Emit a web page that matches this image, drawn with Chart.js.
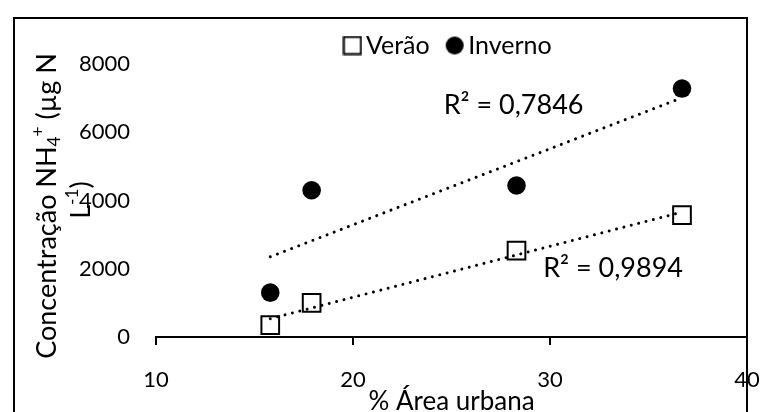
<!DOCTYPE html>
<html lang="pt">
<head>
<meta charset="utf-8">
<title>Concentração de NH4+ e área urbana</title>
<script src="https://cdn.jsdelivr.net/npm/chart.js@4.4.1/dist/chart.umd.min.js"></script>
<style>
  html, body { margin: 0; padding: 0; background: #ffffff; }
  canvas { display: block; }
</style>
</head>
<body>
<canvas id="chart" width="763" height="412"></canvas>
<script>
// Percent urban area of each sampled basin
const urbanArea = [15.8, 17.9, 28.3, 36.7];
// NH4+ concentration (µg N L-1) measured in each season
const summerNH4 = [350, 1000, 2530, 3570];
const winterNH4 = [1300, 4300, 4440, 7280];
const seriesNames = ['Verão', 'Inverno'];
const xTickValues = [10, 20, 30, 40];
const yTickValues = [0, 2000, 4000, 6000, 8000];
const r2Summer = 'R² = 0,9894';
const r2Winter = 'R² = 0,7846';

const FONT = 'Lato, "Open Sans", sans-serif';
const INK = '#000000';

// least-squares line through a series, spanning its x range
function linearFit(xs, ys) {
  const n = xs.length;
  const mx = xs.reduce((a, b) => a + b, 0) / n;
  const my = ys.reduce((a, b) => a + b, 0) / n;
  let sxy = 0, sxx = 0;
  for (let i = 0; i < n; i++) {
    sxy += (xs[i] - mx) * (ys[i] - my);
    sxx += (xs[i] - mx) * (xs[i] - mx);
  }
  const slope = sxy / sxx;
  return { slope, intercept: my - slope * mx };
}
function trendSegment(xs, ys) {
  const f = linearFit(xs, ys);
  const lo = Math.min(...xs), hi = Math.max(...xs);
  return [lo, hi].map(x => ({ x, y: f.intercept + f.slope * x }));
}
function toPoints(xs, ys) {
  return xs.map((x, i) => ({ x, y: ys[i] }));
}

// small canvases used as legend symbols
function markerCanvas(kind) {
  const c = document.createElement('canvas');
  c.width = 20; c.height = 20;
  const g = c.getContext('2d');
  if (kind === 'square') {
    g.lineWidth = 2; g.strokeStyle = INK;
    g.strokeRect(1.5, 1.5, 17, 17);
  } else {
    g.fillStyle = INK;
    g.beginPath(); g.arc(10, 10, 9, 0, Math.PI * 2); g.fill();
  }
  return c;
}
const legendMarkers = { 'Verão': markerCanvas('square'), 'Inverno': markerCanvas('circle') };

// draws a run of text pieces (with sub/superscripts) rotated 90° ccw, centred on (cx, cy)
function drawRotatedRich(ctx, parts, cx, cy, size) {
  ctx.save();
  ctx.translate(cx, cy);
  ctx.rotate(-Math.PI / 2);
  ctx.textBaseline = 'alphabetic';
  ctx.textAlign = 'left';
  ctx.fillStyle = INK;
  const base = size * 0.36;
  let total = 0;
  const widths = parts.map(p => {
    const s = p.kind ? size * 0.64 : size;
    ctx.font = `${s}px ${FONT}`;
    const w = ctx.measureText(p.text).width;
    total += w;
    return w;
  });
  let x = -total / 2;
  parts.forEach((p, i) => {
    const s = p.kind ? size * 0.64 : size;
    let dy = base;
    if (p.kind === 'sub') dy = base + size * 0.16;
    if (p.kind === 'sup') dy = base - size * 0.42;
    ctx.font = `${s}px ${FONT}`;
    ctx.fillText(p.text, x, dy);
    x += widths[i];
  });
  ctx.restore();
}

const framePlugin = {
  id: 'frame',
  beforeDraw(chart) {
    const ctx = chart.ctx;
    ctx.save();
    ctx.fillStyle = '#ffffff';
    ctx.fillRect(0, 0, chart.width, chart.height);
    ctx.strokeStyle = INK;
    ctx.lineWidth = 2;
    ctx.strokeRect(14, 18, chart.chartArea.right - 14, 420);
    ctx.restore();
  },
  afterLayout(chart) {
    // nudge the legend row a little closer to the plot
    if (chart.legend) { chart.legend.top += 4; chart.legend.bottom += 4; }
  }
};

const yTitlePlugin = {
  id: 'yTitle',
  afterDraw(chart) {
    const ctx = chart.ctx;
    const size = 27;
    drawRotatedRich(ctx, [
      { text: 'Concentração NH' },
      { text: '4', kind: 'sub' },
      { text: '+', kind: 'sup' },
      { text: ' (µg N' }
    ], 46, 206, size);
    drawRotatedRich(ctx, [
      { text: 'L' },
      { text: '-1', kind: 'sup' },
      { text: ')' }
    ], 80, 200, size);
  }
};

// coefficient-of-determination notes next to each trend line
const r2Plugin = {
  id: 'r2Labels',
  afterDatasetsDraw(chart) {
    const { ctx, scales: { x, y } } = chart;
    ctx.save();
    ctx.font = `27px ${FONT}`;
    ctx.fillStyle = INK;
    ctx.textAlign = 'right';
    ctx.textBaseline = 'middle';
    ctx.fillText(r2Winter, x.getPixelForValue(31.7), y.getPixelForValue(6800));
    ctx.fillText(r2Summer, x.getPixelForValue(36.75), y.getPixelForValue(2020));
    ctx.restore();
  }
};

const trendStyle = {
  type: 'line',
  showLine: true,
  borderColor: INK,
  borderWidth: 3,
  borderDash: [0.01, 7.6],
  borderCapStyle: 'round',
  pointRadius: 0,
  pointHoverRadius: 0,
  fill: false,
  tension: 0
};

new Chart(document.getElementById('chart'), {
  type: 'scatter',
  data: {
    datasets: [
      Object.assign({ label: 'trend-summer', data: trendSegment(urbanArea, summerNH4) }, trendStyle),
      Object.assign({ label: 'trend-winter', data: trendSegment(urbanArea, winterNH4) }, trendStyle),
      {
        label: seriesNames[0],
        data: toPoints(urbanArea, summerNH4),
        pointStyle: 'rect',
        pointRadius: 12.5,
        pointHoverRadius: 12.5,
        backgroundColor: 'rgba(0,0,0,0)',
        borderColor: INK,
        borderWidth: 2
      },
      {
        label: seriesNames[1],
        data: toPoints(urbanArea, winterNH4),
        pointStyle: 'circle',
        pointRadius: 9.3,
        pointHoverRadius: 9.3,
        backgroundColor: INK,
        borderColor: INK,
        borderWidth: 0
      }
    ]
  },
  options: {
    responsive: false,
    animation: false,
    devicePixelRatio: 1,
    events: [],
    layout: { padding: { left: 0, right: 0, top: 5, bottom: 0 } },
    plugins: {
      tooltip: { enabled: false },
      legend: {
        position: 'top',
        align: 'center',
        fullSize: false,
        labels: {
          usePointStyle: true,
          boxWidth: 2,
          boxHeight: 2,
          padding: 24,
          color: INK,
          font: { family: FONT, size: 25 },
          filter: item => seriesNames.includes(item.text),
          generateLabels(chart) {
            const items = Chart.defaults.plugins.legend.labels.generateLabels(chart);
            return items.map(it => Object.assign(it, { pointStyle: legendMarkers[it.text] || it.pointStyle }));
          }
        }
      }
    },
    scales: {
      x: {
        type: 'linear',
        min: 10,
        max: 40,
        afterBuildTicks(scale) { scale.ticks = xTickValues.map(v => ({ value: v })); },
        afterFit(scale) {
          scale.height = 75;
          scale.paddingLeft = 0;
          scale.paddingRight = 16;
        },
        grid: { display: true, drawOnChartArea: false, drawTicks: true, tickLength: 8, color: INK, lineWidth: 2 },
        border: { display: true, color: INK, width: 2 },
        ticks: { color: INK, font: { family: FONT, size: 22 }, padding: 22, maxRotation: 0, callback: v => String(v) },
        title: {
          display: true,
          text: '% Área urbana',
          color: INK,
          font: { family: FONT, size: 26, lineHeight: 1 },
          padding: { top: 0, bottom: -3 }
        }
      },
      y: {
        type: 'linear',
        min: 0,
        max: 8000,
        afterBuildTicks(scale) { scale.ticks = yTickValues.map(v => ({ value: v })); },
        afterFit(scale) { scale.width = 156; },
        grid: { display: false, drawTicks: false },
        border: { display: false },
        ticks: { color: INK, font: { family: FONT, size: 22 }, padding: 26, callback: v => String(v) }
      }
    }
  },
  plugins: [framePlugin, yTitlePlugin, r2Plugin]
});
</script>
</body>
</html>
